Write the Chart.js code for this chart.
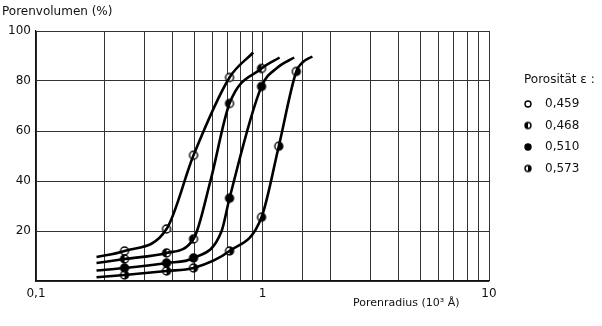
<!DOCTYPE html>
<html>
<head>
<meta charset="utf-8">
<script src="https://cdn.jsdelivr.net/npm/chart.js@4"></script>
<style>
  body { margin: 0; background: #fff; }
  canvas { display: block; }
</style>
</head>
<body>
<canvas id="chart" width="602" height="326"></canvas>
<script>
// porosity values shown in the legend
const porosities = ['0,459', '0,468', '0,510', '0,573'];

// curve traces [radius in 10^3 Å, pore volume %]
const curve459 = [[0.185, 9.6], [0.246, 12], [0.377, 20.8], [0.496, 50.3], [0.715, 81.4], [0.91, 91.4]];
const curve468 = [[0.185, 7.2], [0.246, 8.8], [0.377, 11.2], [0.496, 16.8], [0.589, 40], [0.715, 71], [0.99, 85], [1.19, 89.4]];
const curve510 = [[0.185, 4.2], [0.246, 5.2], [0.377, 7.2], [0.496, 9.2], [0.66, 20], [0.715, 33.1], [0.99, 77.8], [1.165, 85.4], [1.38, 89.4]];
const curve573 = [[0.185, 1.5], [0.246, 2.4], [0.377, 4], [0.496, 5.2], [0.715, 12], [0.99, 25.5], [1.18, 53.9], [1.41, 83.8], [1.5, 87.4], [1.66, 89.8]];

// measured points (markers)
const marks459 = [[0.246, 12], [0.377, 20.8], [0.496, 50.3], [0.715, 81.4]];
const marks468 = [[0.246, 8.8], [0.377, 11.2], [0.496, 16.8], [0.715, 71], [0.99, 85]];
const marks510 = [[0.246, 5.2], [0.377, 7.2], [0.496, 9.2], [0.715, 33.1], [0.99, 77.8]];
const marks573 = [[0.246, 2.4], [0.377, 4], [0.496, 5.2], [0.715, 12], [0.99, 25.5], [1.18, 53.9], [1.41, 83.8]];

const yTicks = [20, 40, 60, 80, 100];
const xTickLabels = { '-1': '0,1', '0': '1', '1': '10' };

const FONT = '"DejaVu Sans", sans-serif';

function makeMarker(kind, r) {
  const size = r * 2 + 4;
  const c = document.createElement('canvas');
  c.width = size; c.height = size;
  const g = c.getContext('2d');
  const m = size / 2;
  g.beginPath();
  g.arc(m, m, r, 0, Math.PI * 2);
  g.fillStyle = kind === 'full' ? '#000' : '#fff';
  g.fill();
  if (kind === 'left' || kind === 'right') {
    g.beginPath();
    if (kind === 'left') g.arc(m, m, r, Math.PI / 2, Math.PI * 1.5);
    else g.arc(m, m, r, -Math.PI / 2, Math.PI / 2);
    g.closePath();
    g.fillStyle = '#000';
    g.fill();
  }
  g.beginPath();
  g.arc(m, m, r, 0, Math.PI * 2);
  g.lineWidth = 1.4;
  g.strokeStyle = '#000';
  g.stroke();
  return c;
}

const kinds = ['open', 'left', 'full', 'right'];
const markers = kinds.map(k => makeMarker(k, 4));
const legendMarkers = kinds.map(k => makeMarker(k, 3));

const curves = [curve459, curve468, curve510, curve573];
const marks = [marks459, marks468, marks510, marks573];

const toXY = arr => arr.map(p => ({ x: p[0], y: p[1] }));

const datasets = [];
curves.forEach(function(c, i) {
  datasets.push({
    label: porosities[i],
    data: toXY(c),
    showLine: true,
    borderColor: '#000',
    borderWidth: 2.6,
    pointRadius: 0,
    cubicInterpolationMode: 'monotone'
  });
});
marks.forEach(function(m, i) {
  datasets.push({
    label: porosities[i] + ' Messpunkte',
    data: toXY(m),
    showLine: false,
    pointStyle: markers[i],
    pointRadius: 5
  });
});

const textPlugin = {
  id: 'texts',
  afterDraw(chart) {
    const ctx = chart.ctx;
    ctx.save();
    ctx.fillStyle = '#111';
    ctx.font = '12px ' + FONT;
    ctx.textBaseline = 'middle';
    ctx.textAlign = 'left';
    ctx.fillText('Porenvolumen (%)', 2, 12);
    ctx.font = '11px ' + FONT;
    ctx.fillText('Porenradius (10³ Å)', 353, 303);

    // legend
    ctx.font = '12px ' + FONT;
    ctx.fillText('Porosität ε :', 524, 80);
    porosities.forEach(function(p, i) {
      const y = 104 + i * 21.5;
      const img = legendMarkers[i];
      ctx.drawImage(img, 528 - img.width / 2, y - img.height / 2);
      ctx.fillText(p, 545, y);
    });
    ctx.restore();
  }
};

new Chart(document.getElementById('chart'), {
  type: 'scatter',
  data: { datasets: datasets },
  options: {
    responsive: false,
    animation: false,
    layout: { padding: { top: 31, right: 113, left: 0, bottom: 0 } },
    plugins: { legend: { display: false }, tooltip: { enabled: false } },
    scales: {
      x: {
        type: 'logarithmic',
        min: 0.1,
        max: 10,
        border: { color: '#111', width: 1.2 },
        grid: { color: '#333', lineWidth: 1, drawTicks: false },
        ticks: {
          autoSkip: false,
          maxRotation: 0,
          padding: 6,
          color: '#111',
          font: { family: FONT, size: 12 },
          callback: function(v) {
            const l = Math.log10(v);
            const r = Math.round(l);
            return Math.abs(l - r) < 1e-6 ? xTickLabels[String(r)] : '';
          }
        },
        afterFit: function(s) { s.height = 45; }
      },
      y: {
        min: 0,
        max: 100,
        border: { color: '#111', width: 1.2 },
        grid: { color: '#333', lineWidth: 1, drawTicks: false },
        afterBuildTicks: function(s) { s.ticks = [0].concat(yTicks).map(v => ({ value: v })); },
        ticks: {
          padding: 5,
          color: '#111',
          font: { family: FONT, size: 12 },
          callback: v => (v === 0 ? '' : String(v))
        },
        afterFit: function(s) { s.width = 36; }
      }
    }
  },
  plugins: [textPlugin]
});
</script>
</body>
</html>
